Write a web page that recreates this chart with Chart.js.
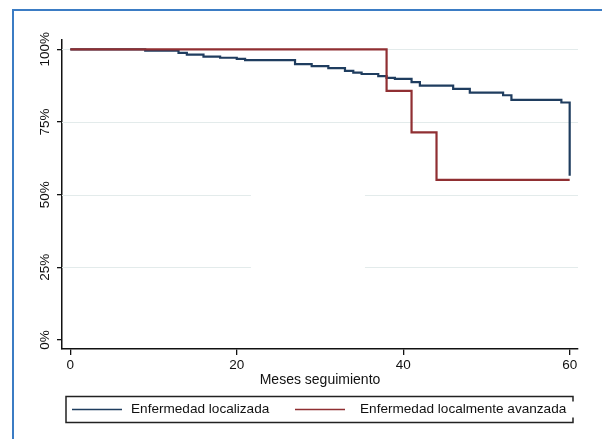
<!DOCTYPE html>
<html>
<head>
<meta charset="utf-8">
<script src="https://cdn.jsdelivr.net/npm/chart.js@4"></script>
<style>
  html, body { margin: 0; padding: 0; background: #fff; }
  #km { display: block; }
</style>
</head>
<body>
<canvas id="km" width="602" height="439"></canvas>
<script>
// Kaplan-Meier, valores
const mesesLoc = [0, 9, 13, 14, 16, 18, 20, 21, 27, 29, 31, 33, 34, 35, 37, 38, 39, 41, 42, 46, 48, 52, 53, 59, 60];
const survLoc  = [100, 99.5, 98.8, 98.2, 97.5, 97.1, 96.7, 96.3, 94.9, 94.2, 93.5, 92.6, 92.0, 91.5, 90.8, 90.2, 89.8, 88.7, 87.5, 86.4, 85.1, 84.2, 82.6, 81.7, 56.5];
const mesesAv  = [0, 38, 41, 44, 60];
const survAv   = [100, 85.7, 71.4, 55.1, 55.1];

const seriesNames = ['Enfermedad localizada', 'Enfermedad localmente avanzada'];
const xTicks = [0, 20, 40, 60];
const yTicks = [0, 25, 50, 75, 100];
const gridLevels = [25, 50, 75, 100];
const gapLevels = [25, 50];
const gapRange = [21.7, 35.4];   // tramo sin rejilla (meses)

const BLUE = '#1f3d5f', RED = '#902f32';
const FONT = '"Liberation Sans", Arial, sans-serif';

const decor = {
  id: 'decor',
  beforeDraw(chart) {
    const c = chart.ctx;
    c.save();
    c.fillStyle = '#fff';
    c.fillRect(0, 0, chart.width, chart.height);
    c.strokeStyle = '#3b7cc4';
    c.lineWidth = 2;
    c.beginPath();
    c.moveTo(13, chart.height);
    c.lineTo(13, 10);
    c.lineTo(chart.width, 10);
    c.stroke();
    c.restore();
  },
  beforeDatasetsDraw(chart) {
    const c = chart.ctx, x = chart.scales.x, y = chart.scales.y, a = chart.chartArea;
    c.save();
    c.strokeStyle = '#e3ebeb';
    c.lineWidth = 1;
    gridLevels.forEach(v => {
      const py = Math.round(y.getPixelForValue(v)) + 0.5;
      c.beginPath();
      if (gapLevels.includes(v)) {
        c.moveTo(a.left, py); c.lineTo(x.getPixelForValue(gapRange[0]), py);
        c.moveTo(x.getPixelForValue(gapRange[1]), py); c.lineTo(a.right, py);
      } else {
        c.moveTo(a.left, py); c.lineTo(a.right, py);
      }
      c.stroke();
    });
    c.restore();
  },
  afterDraw(chart) {
    const c = chart.ctx, y = chart.scales.y, a = chart.chartArea;
    c.save();
    c.fillStyle = '#111';
    // etiquetas eje y, giradas
    c.font = '13.5px ' + FONT;
    c.textAlign = 'center';
    c.textBaseline = 'middle';
    yTicks.forEach(v => {
      c.save();
      c.translate(45, y.getPixelForValue(v));
      c.rotate(-Math.PI / 2);
      c.fillText(v + '%', 0, 0);
      c.restore();
    });
    // titulo eje x
    c.font = '14px ' + FONT;
    c.fillText('Meses seguimiento', (a.left + a.right) / 2, 380);
    // leyenda
    const L = 66, R = 573, T = 396.5, B = 422.5, my = 409.5;
    c.strokeStyle = '#222';
    c.lineWidth = 1.5;
    c.beginPath();
    c.moveTo(R, T + 5); c.lineTo(R, T); c.lineTo(L, T); c.lineTo(L, B); c.lineTo(R, B); c.lineTo(R, B - 5);
    c.stroke();
    c.lineWidth = 1.6;
    c.strokeStyle = BLUE;
    c.beginPath(); c.moveTo(72, my); c.lineTo(122, my); c.stroke();
    c.strokeStyle = RED;
    c.beginPath(); c.moveTo(295, my); c.lineTo(345, my); c.stroke();
    c.font = '13.6px ' + FONT;
    c.textAlign = 'left';
    c.fillStyle = '#111';
    c.fillText(seriesNames[0], 131, my);
    c.fillText(seriesNames[1], 360, my);
    c.restore();
  }
};

new Chart(document.getElementById('km'), {
  type: 'line',
  data: {
    datasets: [
      {
        label: seriesNames[0],
        data: mesesLoc.map((m, i) => ({ x: m, y: survLoc[i] })),
        borderColor: BLUE, borderWidth: 2.2, stepped: true, pointRadius: 0, fill: false, order: 1
      },
      {
        label: seriesNames[1],
        data: mesesAv.map((m, i) => ({ x: m, y: survAv[i] })),
        borderColor: RED, borderWidth: 2.2, stepped: true, pointRadius: 0, fill: false, order: 0
      }
    ]
  },
  options: {
    responsive: false,
    animation: false,
    layout: { padding: { left: 0, top: 40, right: 24, bottom: 0 } },
    plugins: { legend: { display: false }, tooltip: { enabled: false } },
    scales: {
      x: {
        type: 'linear', min: -1, max: 61,
        afterBuildTicks: s => { s.ticks = xTicks.map(v => ({ value: v })); },
        afterFit: s => { s.height = 90; },
        grid: { display: true, drawOnChartArea: false, drawTicks: true, tickLength: 6, color: '#111', lineWidth: 1.3 },
        border: { display: true, color: '#111', width: 1.5 },
        ticks: { color: '#111', font: { family: FONT, size: 13.5 }, padding: 2, maxRotation: 0 }
      },
      y: {
        type: 'linear', min: -3.1, max: 103.2,
        afterBuildTicks: s => { s.ticks = yTicks.map(v => ({ value: v })); },
        afterFit: s => { s.width = 62; },
        grid: { display: true, drawOnChartArea: false, drawTicks: true, tickLength: 5, color: '#111', lineWidth: 1.3 },
        border: { display: true, color: '#111', width: 1.5 },
        ticks: { display: false }
      }
    }
  },
  plugins: [decor]
});
</script>
</body>
</html>
